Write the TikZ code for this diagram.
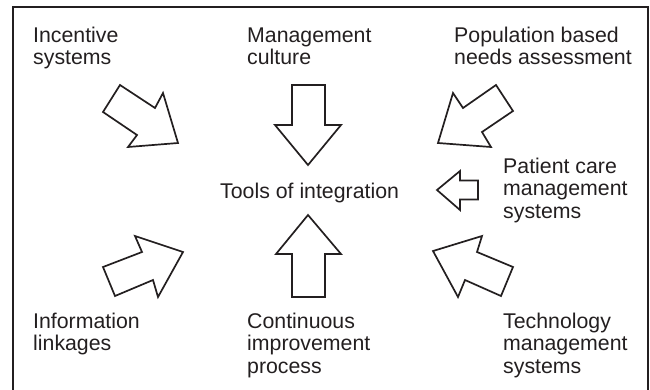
\documentclass[tikz,border=0pt]{standalone}
\usepackage{fontspec}
\setmainfont{Liberation Sans}
\definecolor{ink}{HTML}{231F20}
\begin{document}
\begin{tikzpicture}[x=1pt,y=-1pt,
  lbl/.style={anchor=base west,inner sep=0pt,align=left,text=ink,
    font=\fontsize{21.3}{22.6}\selectfont},
  blockarrow/.style={draw=ink,fill=white,line width=1.7pt,line join=miter},
  frame/.style={draw=ink,line width=2pt}]
\useasboundingbox (0,0) rectangle (650,389);
\draw[frame] (13,392) -- (13,7) -- (647.5,7) -- (647.5,392);
% labels (anchored at the baseline of their last line)
\node[lbl] (inc) at (33,64.6) {Incentive\\systems};
\node[lbl] (mgc) at (247,64.6) {Management\\culture};
\node[lbl] (pop) at (454,64.6) {Population based\\needs assessment};
\node[lbl] (pcm) at (503,218.2) {Patient care\\management\\systems};
\node[lbl] (tools) at (220,198) {Tools of integration};
\node[lbl] (inf) at (33,350.6) {Information\\linkages};
\node[lbl] (cip) at (247,373.2) {Continuous\\improvement\\process};
\node[lbl] (tms) at (503,373.2) {Technology\\management\\systems};
% block arrows
\draw[blockarrow] (103,112) -- (120,85) -- (155,108) -- (163,93) -- (178,143) -- (128,147) -- (137,135) -- cycle;
\draw[blockarrow] (292,85) -- (325,85) -- (325,125) -- (341,125) -- (308,165) -- (275,125) -- (292,125) -- cycle;
\draw[blockarrow] (438,143) -- (453,93) -- (463,108) -- (496,85) -- (513,111) -- (482,132) -- (491,147) -- cycle;
\draw[blockarrow] (437,190) -- (460,171) -- (460,180.5) -- (478,180.5) -- (478,199.5) -- (460,199.5) -- (460,210) -- cycle;
\draw[blockarrow] (103,267) -- (142,252) -- (135,236) -- (183,252) -- (158,297) -- (153,280) -- (115,296) -- cycle;
\draw[blockarrow] (308,215) -- (341,254) -- (325,254) -- (325,297) -- (292,297) -- (292,254) -- (276,254) -- cycle;
\draw[blockarrow] (433,251) -- (482,236) -- (477,252) -- (513,267) -- (501,296) -- (465,280) -- (458,297) -- cycle;
\end{tikzpicture}
\end{document}
